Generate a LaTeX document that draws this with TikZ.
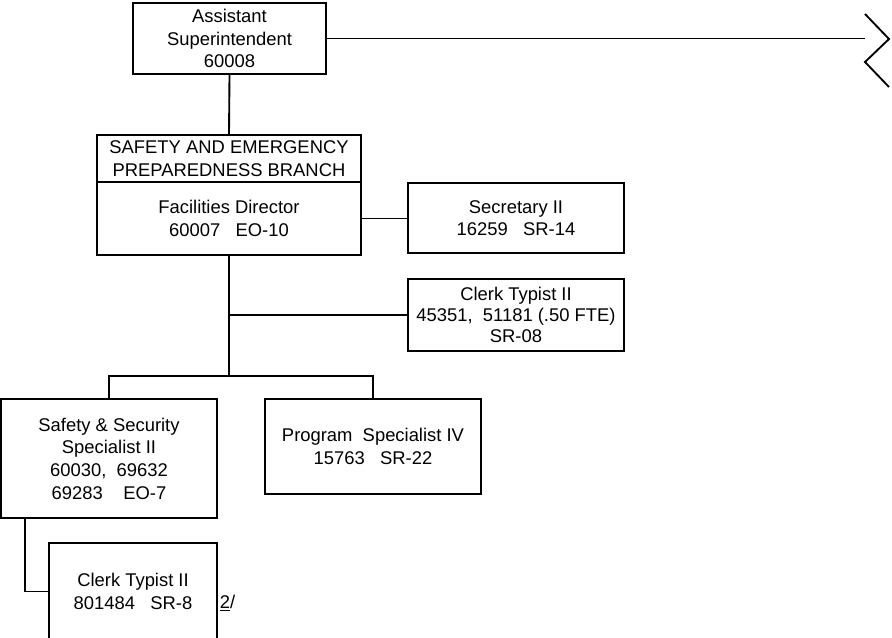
\documentclass[tikz,border=0pt]{standalone}
\usepackage{fontspec}
\setmainfont{Liberation Sans}
\usetikzlibrary{positioning}
\tikzstyle{unit} = [draw, line width=1.4pt, align=center, inner sep=0pt, outer sep=0pt, font=\fontsize{13.8pt}{17pt}\selectfont]
\tikzstyle{output} = [coordinate]

\begin{document}
\begin{tikzpicture}[x=0.75pt, y=-0.75pt, line width=1.4pt]
	\useasboundingbox (0,0) rectangle (892,638);
	% boxes
	\node [unit, minimum width=144.75pt, minimum height=53.25pt] (asst) at (229.5,38.5) {Assistant\\Superintendent\\60008};
	\node [unit, minimum width=198pt, minimum height=35.25pt] (branch) at (229,158.5) {SAFETY AND EMERGENCY\\PREPAREDNESS BRANCH};
	\node [unit, minimum width=198pt, minimum height=54.75pt, below=0pt of branch] (director) {Facilities Director\\60007\ \ \ EO-10};
	\node [unit, minimum width=162pt, minimum height=52.5pt] (secretary) at (516,218) {Secretary II\\16259\ \ \ SR-14};
	\node [unit, minimum width=162pt, minimum height=54pt, font=\fontsize{13.8pt}{15.5pt}\selectfont] (typist) at (516,315) {Clerk Typist II\\45351,\ \ 51181 (.50 FTE)\\SR-08};
	\node [unit, minimum width=162pt, minimum height=89.25pt] (safety) at (109,458.5) {Safety \& Security\\Specialist II\\60030,\ \ 69632\\69283\ \ \ \ EO-7};
	\node [unit, minimum width=162pt, minimum height=71.25pt] (program) at (373,446.5) {Program\ \ Specialist IV\\15763\ \ \ SR-22};
	\node [unit, minimum width=126pt, minimum height=72.75pt] (clerk) at (133,591.5) {Clerk Typist II\\801484\ \ \ SR-8};
	\node [anchor=base west, inner sep=0pt, font=\fontsize{13.8pt}{17pt}\selectfont] (note) at (219,608) {\underline{2}/};

	% lines
	\node [output] (brk) at (865,39) {};
	\node [output] (bus) at (229,376) {};
	\draw (asst.east) -- (asst.east -| brk);
	\draw (865,14) -- (889,39) -- (865,62) -- (889,87);
	\draw (asst.south) -- (branch.north);
	\draw (director.east) -- (director.east -| secretary.west);
	\draw (director.south) -- (bus);
	\draw (typist.west) -- (typist.west -| bus);
	\draw (safety.north) |- (bus) -| (program.north);
	\draw ([xshift=18pt]safety.south west) |- (clerk.west);
\end{tikzpicture}
\end{document}
